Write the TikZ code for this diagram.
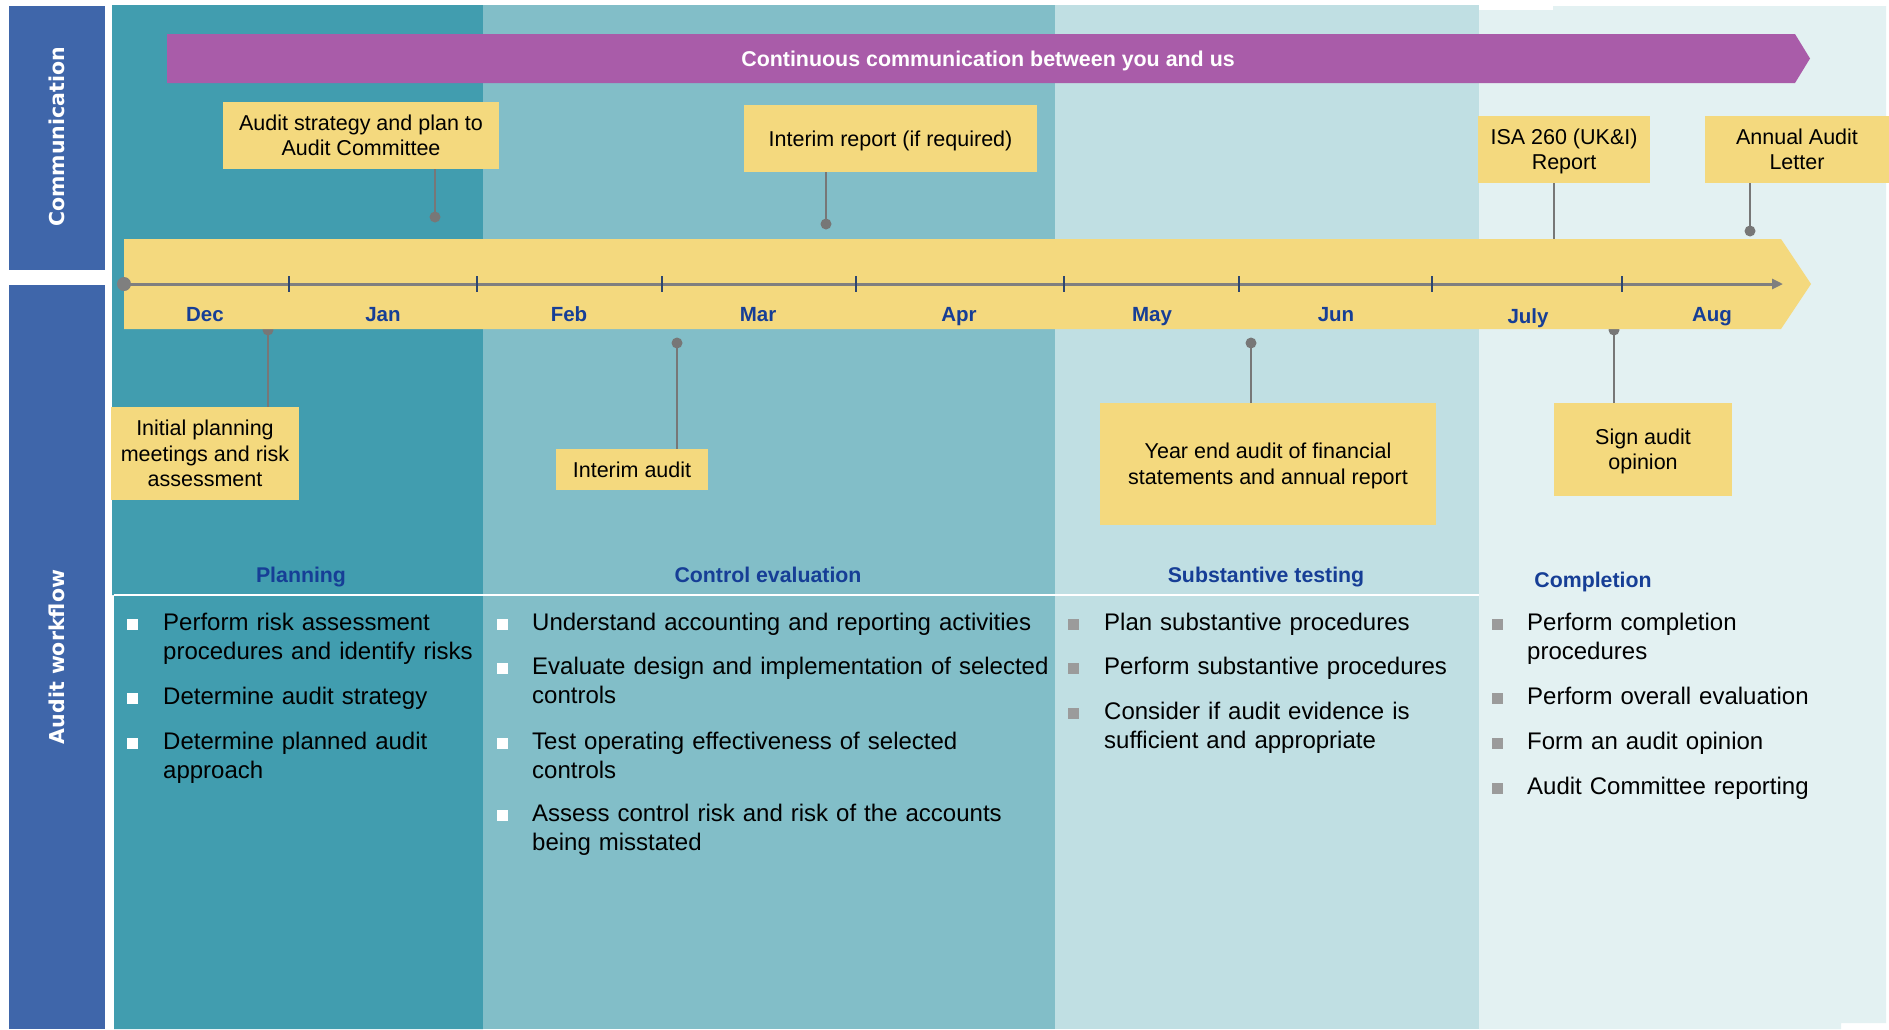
\documentclass[tikz,border=0pt]{standalone}
\usepackage{fontspec}
\setmainfont{Liberation Sans}
\newfontfamily\sidefont{DejaVu Sans}
\usetikzlibrary{arrows.meta}
\definecolor{sidebar}{HTML}{3F66AA}
\definecolor{planc}{HTML}{419DAF}
\definecolor{ctrlc}{HTML}{82BEC8}
\definecolor{subsc}{HTML}{C0DFE3}
\definecolor{complc}{HTML}{E3F1F2}
\definecolor{purp}{HTML}{A95CA9}
\definecolor{yel}{HTML}{F4D97E}
\definecolor{navy}{HTML}{163E96}
\definecolor{conngray}{HTML}{777777}
\definecolor{axisgray}{HTML}{7F7F7F}
\definecolor{tickc}{HTML}{2E4670}
\definecolor{bulgray}{HTML}{9B9B9B}
\newcommand\lstrut{\rule{0pt}{22pt}}
\newcommand\bstrut{\rule[-4.6pt]{0pt}{24.6pt}}
\begin{document}
\begin{tikzpicture}[x=1pt,y=-1pt,
  ybox/.style={fill=yel, inner sep=0pt, align=center, text=black, font=\fontsize{21.5}{25.5}\selectfont},
  conn/.style={draw=conngray, line width=2.8pt},
  month/.style={anchor=base, text=navy, font=\fontsize{20.5}{24}\selectfont\bfseries},
  phase/.style={anchor=base, text=navy, font=\fontsize{21.3}{25}\selectfont\bfseries},
  itemtext/.style={anchor=north west, inner sep=0pt, text width=640pt, align=left, font=\fontsize{24}{29}\selectfont},
  bulw/.style={fill=white, minimum size=11pt, inner sep=0pt},
  bulg/.style={fill=bulgray, minimum size=11pt, inner sep=0pt},
  sidetext/.style={rotate=90, text=white, font=\sidefont\fontsize{20.5}{24}\selectfont\bfseries},
  tick/.style={draw=tickc, line width=1.5pt}
]
\useasboundingbox (0,0) rectangle (1889,1029);
\fill[white] (0,0) rectangle (1889,1029);
% column backgrounds
\fill[planc] (112,5) -- (483,5) -- (483,1029) -- (114,1029) -- (114,595) -- (112,595) -- cycle;
\fill[ctrlc] (483,5) rectangle (1055,1029);
\fill[subsc] (1055,5) rectangle (1479,1029);
\fill[complc] (1479,10) -- (1553,10) -- (1553,6) -- (1886,6) -- (1886,1023) -- (1841,1023) -- (1841,1029) -- (1479,1029) -- cycle;
\draw[white, line width=2pt] (114,595) -- (1479,595);
% side bars
\fill[sidebar] (9,6) rectangle (105,270);
\fill[sidebar] (9,285) rectangle (105,1029);
\node[sidetext] (commlbl) at (57,137) {Communication};
\node[sidetext] (wflbl) at (57,657) {Audit workflow};
% purple arrow
\fill[purp] (167,34) -- (1795,34) -- (1810,58.5) -- (1795,83) -- (167,83) -- cycle;
\node[anchor=base, text=white, font=\fontsize{21.4}{25}\selectfont\bfseries] (comm) at (988,66) {Continuous communication between you and us};
% dot coordinates
\coordinate (d1) at (435,217);
\coordinate (d2) at (826,224);
\coordinate (d3) at (1554,239);
\coordinate (d4) at (1750,231);
\coordinate (d5) at (268,330);
\coordinate (d6) at (677,343);
\coordinate (d7) at (1251,343);
\coordinate (d8) at (1614,330);
% boxes
\node[ybox, minimum width=276, minimum height=67] (strat) at (361,135.5) {\bstrut Audit strategy and plan to\\\bstrut Audit Committee};
\node[ybox, minimum width=293, minimum height=67] (irep) at (890.5,138.5) {\bstrut Interim report (if required)};
\node[ybox, minimum width=172, minimum height=67] (isa) at (1564,149.5) {\bstrut ISA 260 (UK\&I)\\\bstrut Report};
\node[ybox, minimum width=184, minimum height=67] (aal) at (1797,149.5) {\bstrut Annual Audit\\\bstrut Letter};
\node[ybox, minimum width=188, minimum height=93] (init) at (205,453.5) {\bstrut Initial planning\\meetings and risk\\\bstrut assessment};
\node[ybox, minimum width=152, minimum height=41] (iaud) at (632,469.5) {\bstrut Interim audit};
\node[ybox, minimum width=336, minimum height=122] (yend) at (1268,464) {\bstrut Year end audit of financial\\\bstrut statements and annual report};
\node[ybox, minimum width=178, minimum height=93] (sign) at (1643,449.5) {\bstrut Sign audit\\\bstrut opinion};
% connectors
\draw[conn] (strat.south -| d1) -- (d1);
\fill[conngray] (d1) circle (5.5pt);
\draw[conn] (irep.south -| d2) -- (d2);
\fill[conngray] (d2) circle (5.5pt);
\draw[conn] (isa.south -| d3) -- (d3);
\draw[conn] (aal.south -| d4) -- (d4);
\fill[conngray] (d4) circle (5.5pt);
\draw[conn] (init.north -| d5) -- (d5);
\fill[conngray] (d5) circle (5.5pt);
\draw[conn] (iaud.north -| d6) -- (d6);
\fill[conngray] (d6) circle (5.5pt);
\draw[conn] (yend.north -| d7) -- (d7);
\fill[conngray] (d7) circle (5.5pt);
\draw[conn] (sign.north -| d8) -- (d8);
\fill[conngray] (d8) circle (5.5pt);
% timeline band
\fill[yel] (124,239) -- (1781,239) -- (1811,284) -- (1781,329) -- (124,329) -- cycle;
\coordinate (ax0) at (124,284);
\coordinate (ax1) at (1783,284);
\draw[draw=axisgray, line width=3pt, -{Triangle[length=11pt,width=10pt]}] (ax0) -- (ax1);
\fill[axisgray] (ax0) circle (7pt);
\foreach \t in {289,477,662,856,1064,1239,1432,1622}
  \draw[tick] (\t,276) -- (\t,292);
\node[month] (mdec) at (205,321) {Dec};
\node[month] (mjan) at (383,321) {Jan};
\node[month] (mfeb) at (569,321) {Feb};
\node[month] (mmar) at (758,321) {Mar};
\node[month] (mapr) at (959,321) {Apr};
\node[month] (mmay) at (1152,321) {May};
\node[month] (mjun) at (1336,321) {Jun};
\node[month] (mjul) at (1528,323) {July};
\node[month] (maug) at (1712,321) {Aug};
% phase headings
\node[phase] (hplan) at (301,582) {Planning};
\node[phase] (hctrl) at (768,582) {Control evaluation};
\node[phase] (hsubs) at (1266,582) {Substantive testing};
\node[phase] (hcomp) at (1593,587) {Completion};
% planning items
\node[bulw] (pb1) at (132.5,624.5) {};
\node[itemtext] (p1) at (163,608) {\lstrut Perform risk assessment\\procedures and identify risks};
\node[bulw] (pb2) at (132.5,698.5) {};
\node[itemtext] (p2) at (163,682) {\lstrut Determine audit strategy};
\node[bulw] (pb3) at (132.5,743.5) {};
\node[itemtext] (p3) at (163,727) {\lstrut Determine planned audit\\approach};
% control items
\node[bulw] (cb1) at (502,624.5) {};
\node[itemtext] (c1) at (532,608) {\lstrut Understand accounting and reporting activities};
\node[bulw] (cb2) at (502,668.5) {};
\node[itemtext] (c2) at (532,652) {\lstrut Evaluate design and implementation of selected\\controls};
\node[bulw] (cb3) at (502,743.5) {};
\node[itemtext] (c3) at (532,727) {\lstrut Test operating effectiveness of selected\\controls};
\node[bulw] (cb4) at (502,815.5) {};
\node[itemtext] (c4) at (532,799) {\lstrut Assess control risk and risk of the accounts\\being misstated};
% substantive items
\node[bulg] (sb1) at (1073,624.5) {};
\node[itemtext] (s1) at (1104,608) {\lstrut Plan substantive procedures};
\node[bulg] (sb2) at (1073,668.5) {};
\node[itemtext] (s2) at (1104,652) {\lstrut Perform substantive procedures};
\node[bulg] (sb3) at (1073,713.5) {};
\node[itemtext] (s3) at (1104,697) {\lstrut Consider if audit evidence is\\sufficient and appropriate};
% completion items
\node[bulg] (kb1) at (1497,624.5) {};
\node[itemtext] (k1) at (1527,608) {\lstrut Perform completion\\procedures};
\node[bulg] (kb2) at (1497,698.5) {};
\node[itemtext] (k2) at (1527,682) {\lstrut Perform overall evaluation};
\node[bulg] (kb3) at (1497,743.5) {};
\node[itemtext] (k3) at (1527,727) {\lstrut Form an audit opinion};
\node[bulg] (kb4) at (1497,788.5) {};
\node[itemtext] (k4) at (1527,772) {\lstrut Audit Committee reporting};
\end{tikzpicture}
\end{document}
